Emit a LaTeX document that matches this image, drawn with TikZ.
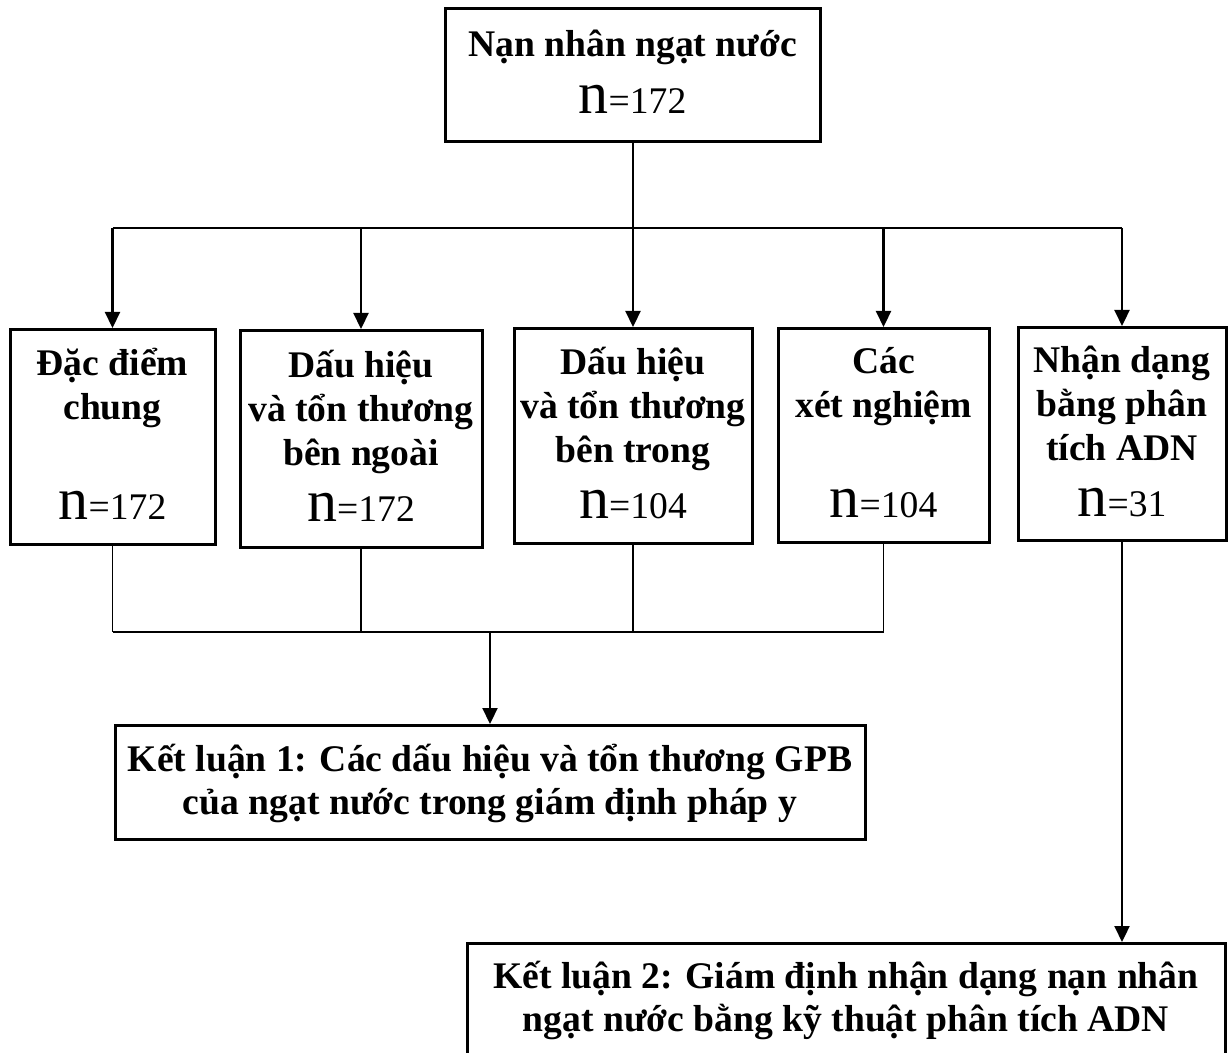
\documentclass[tikz,border=0pt]{standalone}
\usepackage{fontspec}
\setmainfont{Liberation Serif}
\usetikzlibrary{arrows.meta}
\newcommand{\topStrut}{\rule{0pt}{16pt}}
\newcommand{\botStrut}{\rule[-5.6pt]{0pt}{5.6pt}}
\newcommand{\nCount}[1]{%%
  %% Big n, then the count in upright weight.
  {\mdseries\fontsize{30}{30}\selectfont n}{\mdseries =#1}\botStrut}

\begin{document}
\begin{tikzpicture}[%%
  x=0.5pt,y=-0.5pt,
  boxStyle/.style={draw,line width=1.5pt,inner sep=0pt,align=center,anchor=north,
    font=\fontsize{18.8}{22}\selectfont\bfseries},
  lineStyle/.style={-,line width=1pt},
  thinStyle/.style={-,line width=0.8pt},
  arrowStyle/.style={-{Triangle[width=7.5pt,length=8pt]},line width=1.1pt}
]
%%
%% Frame of the picture.
\useasboundingbox (0,0) rectangle (1230,1053);
\clip (0,0) rectangle (1230,1053);
\coordinate (topBus) at (0,228);
\coordinate (botBus) at (0,632);
%%
%% The victims.
\node[boxStyle,minimum width=187.5pt,minimum height=66.5pt,
  font=\fontsize{18.8}{22.5}\selectfont\bfseries] (victim) at (632.5,7)
  {\topStrut Nạn nhân ngạt nước\\[6pt]\nCount{172}};
%%
%% The five studies.
\node[boxStyle,minimum width=102.5pt,minimum height=107.5pt] (general) at (112.5,328)
  {\topStrut Đặc điểm\\chung\\~\\[6pt]\nCount{172}};
\node[boxStyle,minimum width=121pt,minimum height=108.5pt] (outside) at (361,329)
  {\topStrut Dấu hiệu\\và tổn thương\\bên ngoài\\[6pt]\nCount{172}};
\node[boxStyle,minimum width=119pt,minimum height=107.5pt] (inside) at (633,327)
  {\topStrut Dấu hiệu\\và tổn thương\\bên trong\\[6pt]\nCount{104}};
\node[boxStyle,minimum width=105.5pt,minimum height=107pt] (tests) at (883.5,327)
  {\topStrut Các\\xét nghiệm\\~\\[6pt]\nCount{104}};
\node[boxStyle,minimum width=104pt,minimum height=106.5pt] (dna) at (1122,326)
  {\topStrut Nhận dạng\\bằng phân\\tích ADN\\[6pt]\nCount{31}};
%%
%% The two conclusions.
\node[boxStyle,minimum width=375pt,minimum height=57pt,
  font=\fontsize{18.8}{21.5}\selectfont\bfseries] (conclOne) at (490,724)
  {\topStrut Kết luận 1: Các dấu hiệu và tổn thương GPB\\của ngạt nước trong giám định pháp y\botStrut};
\node[boxStyle,minimum width=379pt,minimum height=56pt,
  font=\fontsize{18.8}{21.5}\selectfont\bfseries] (conclTwo) at (846,942)
  {\topStrut Kết luận 2: Giám định nhận dạng nạn nhân\\ngạt nước bằng kỹ thuật phân tích ADN\botStrut};
%% Its lower edge runs off the page.
\draw[line width=1.5pt] (conclTwo.south west) -- ++(0,40);
\draw[line width=1.5pt] (conclTwo.south east) -- ++(0,40);
%%
%% Split from the victims to the studies.
\draw[lineStyle] (victim.south) -- (victim.south |- topBus);
\draw[lineStyle] (general.north |- topBus) -- (dna.north |- topBus);
\foreach \study in {general,outside,inside,tests,dna}
  \draw[arrowStyle] (\study.north |- topBus) -- (\study.north);
%%
%% Join the first four studies into conclusion 1.
\foreach \study in {general,outside,inside,tests}
  \draw[thinStyle] (\study.south) -- (\study.south |- botBus);
\draw[thinStyle] (general.south |- botBus) -- (tests.south |- botBus);
\draw[arrowStyle] (conclOne.north |- botBus) -- (conclOne.north);
%%
%% DNA study into conclusion 2.
\draw[arrowStyle] (dna.south) -- (dna.south |- conclTwo.north);

\end{tikzpicture}
\end{document}
